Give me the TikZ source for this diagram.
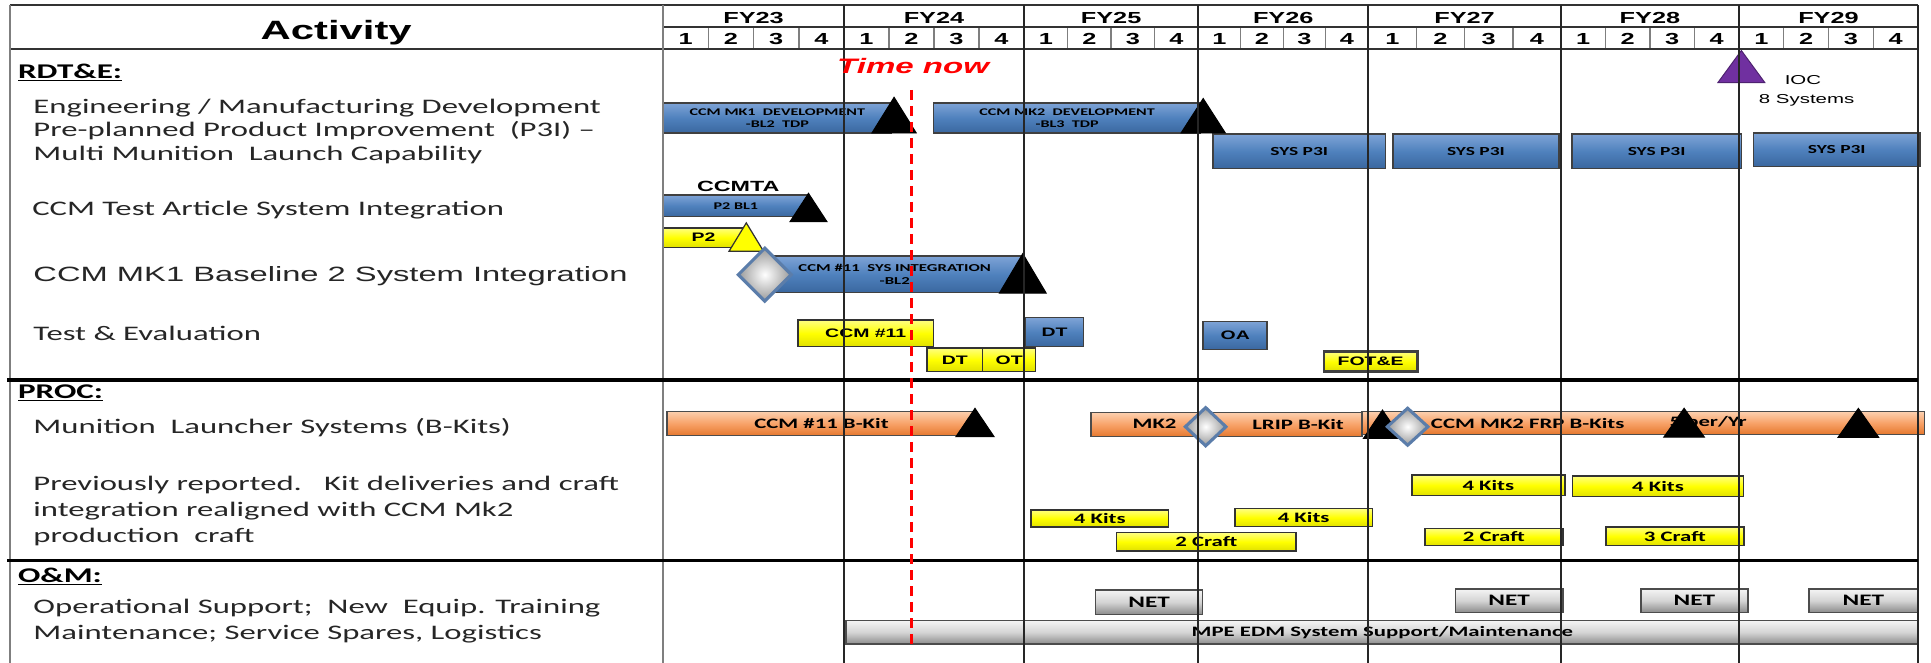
\documentclass[tikz,border=0pt]{standalone}
\usepackage{fontspec}
\setmainfont[FakeStretch=1.58]{Carlito}
\newfontfamily\fcal[FakeStretch=1.58]{Carlito}
\newfontfamily\fari[FakeStretch=1.58]{Liberation Sans}
\usetikzlibrary{shapes.geometric}

\definecolor{bbar}{HTML}{4F81BD}
\definecolor{bbarL}{HTML}{7EA3D6}
\definecolor{bbarD}{HTML}{3A679F}
\definecolor{ybar}{HTML}{FFFF00}
\definecolor{ybarL}{HTML}{FFFF80}
\definecolor{ybarD}{HTML}{E0E000}
\definecolor{obar}{HTML}{F8A268}
\definecolor{obarL}{HTML}{FCCFAE}
\definecolor{obarD}{HTML}{E5782E}
\definecolor{gbarM}{HTML}{D4D4D4}
\definecolor{gbarL}{HTML}{F4F4F4}
\definecolor{gbarD}{HTML}{8C8C8C}
\definecolor{purp}{HTML}{7030A0}
\definecolor{diaedge}{HTML}{5B7DAA}
\definecolor{linegray}{HTML}{7F7F7F}

\tikzset{
  barbase/.style={rectangle, inner sep=0pt, draw=black!80, line width=1.2pt, align=center, text=black},
  bluebar/.style={barbase, top color=bbarL, bottom color=bbarD, middle color=bbar, draw=black!75},
  yelbar/.style={barbase, top color=ybarL, bottom color=ybarD, middle color=ybar},
  orgbar/.style={barbase, top color=obarL, bottom color=obarD, middle color=obar, draw=black!70},
  graybar/.style={barbase, top color=gbarL, bottom color=gbarD, middle color=gbarM, draw=black!70},
  tinytxt/.style={font=\fcal\bfseries\fontsize{8.3}{9.5}\selectfont},
  syst/.style={font=\fcal\bfseries\fontsize{10}{12}\selectfont},
  shortt/.style={font=\fari\bfseries\fontsize{10}{12}\selectfont},
  midt/.style={font=\fcal\bfseries\fontsize{11.7}{13}\selectfont},
  nett/.style={font=\fcal\bfseries\fontsize{13}{15}\selectfont},
  freet/.style={inner sep=0pt, anchor=base},
  lbl/.style={inner sep=0pt, anchor=base west, font=\fcal\fontsize{16.8}{19}\selectfont, text=black!85},
  sect/.style={inner sep=0pt, anchor=base west, font=\fcal\bfseries\fontsize{17}{19}\selectfont},
  fyl/.style={inner sep=0pt, anchor=base, font=\fari\bfseries\fontsize{13}{15}\selectfont},
  ql/.style={inner sep=0pt, anchor=base, font=\fari\bfseries\fontsize{13}{15}\selectfont},
  yline/.style={draw=black!85, line width=1.3pt},
  gline/.style={draw=linegray, line width=1.8pt},
  qline/.style={draw=linegray, line width=1.2pt},
  hline/.style={draw=black!80, line width=1.3pt},
  secline/.style={draw=black, line width=2.8pt},
  nowline/.style={draw=red, line width=2.5pt, dash pattern=on 8pt off 5pt},
  blktri/.style={fill=black, draw=black, line width=0.8pt, line join=miter},
  yeltri/.style={fill=ybar, draw=black!80, line width=1pt, line join=miter},
  purtri/.style={fill=purp, draw=purp!70!black, line width=0.8pt, line join=miter},
  diam/.style={draw=diaedge, line width=2.5pt, inner color=white, outer color=black!40, line join=miter}
}

\newcommand{\gbar}[7]{%
  \node[#2, minimum width={#5pt-#3pt}, minimum height={#6pt-#4pt}] (#1) at ({(#3+#5)/2},{(#4+#6)/2}) {#7};}
\newcommand{\mtri}[6]{%
  \coordinate (#1) at (#2,#3);
  \draw[#6] (#1) -- ++({-#4},#5) -- ++({2*#4},0) -- cycle;}
\newcommand{\mdia}[5]{%
  \coordinate (#1) at (#2,#3);
  \draw[diam] (#2,{#3-#5}) -- ({#2+#4},#3) -- (#2,{#3+#5}) -- ({#2-#4},#3) -- cycle;}

\begin{document}
\begin{tikzpicture}[x=1pt, y=-1pt]
\useasboundingbox (0,0) rectangle (1568,538);
\fill[white] (0,0) rectangle (1568,538);

% ---------- header ----------
\node[inner sep=0pt, anchor=base, font=\fari\bfseries\fontsize{21.5}{24}\selectfont] (act) at (273,32) {Activity};
\foreach \a/\b/\yr in {538.5/685.3/23, 685.3/831.5/24, 831.5/973/25, 973/1111/26, 1111/1267.5/27, 1267.5/1412/28, 1412/1557.5/29}{
  \node[fyl] (fy\yr) at ({(\a+\b)/2},19) {FY\yr};
  \foreach \j in {1,2,3,4}{
    \node[ql] (q\yr\j) at ({\a+(\j-0.5)*(\b-\a)/4},36.5) {\j};
  }
  \foreach \j in {1,2,3}{
    \draw[qline] ({\a+\j*(\b-\a)/4},22) -- ({\a+\j*(\b-\a)/4},40);
  }
}

% ---------- left column ----------
\node[sect] (rdte) at (14.5,63.6) {\underline{RDT\&E:}};
\node[lbl] (l1) at (27,92) {Engineering / Manufacturing Development};
\node[lbl] (l2) at (27,111) {Pre-planned Product Improvement\ \ (P3I) –};
\node[lbl] (l3) at (27,130) {Multi Munition\ \ Launch Capability};
\node[lbl] (l4) at (26,174.6) {CCM Test Article System Integration};
\node[lbl, font=\fari\fontsize{16.8}{19}\selectfont] (l5) at (27,228.7) {CCM MK1 Baseline 2 System Integration};
\node[lbl] (l6) at (27,276.6) {Test \& Evaluation};
\node[sect] (proc) at (14.5,323.4) {\underline{PROC:}};
\node[lbl] (l7) at (27,351.9) {Munition\ \ Launcher Systems (B-Kits)};
\node[lbl] (l8) at (27,398.4) {Previously reported.\ \ \ Kit deliveries and craft};
\node[lbl] (l9) at (27,419.5) {integration realigned with CCM Mk2};
\node[lbl] (l10) at (27,440.7) {production\ \ craft};
\node[sect] (om) at (14.5,472.9) {\underline{O\&M:}};
\node[lbl] (l11) at (27,498) {Operational Support;\ \ New\ \ Equip. Training};
\node[lbl] (l12) at (27,519.2) {Maintenance; Service Spares, Logistics};

% ---------- RDT&E bars ----------
\gbar{b1}{bluebar, tinytxt}{538.5}{83.5}{724}{108}{CCM MK1\ \ DEVELOPMENT\\-BL2\ \ TDP}
\gbar{b2}{bluebar, tinytxt}{758}{83.5}{975}{108}{CCM MK2\ \ DEVELOPMENT\\-BL3\ \ TDP}
\gbar{p3a}{bluebar, syst}{985}{109}{1125}{136.7}{SYS P3I}
\gbar{p3b}{bluebar, syst}{1131}{109}{1266}{136.7}{SYS P3I}
\gbar{p3c}{bluebar, syst}{1276.5}{109}{1414}{136.7}{SYS P3I}
\gbar{p3d}{bluebar, syst}{1424}{108}{1559}{135}{SYS P3I}
\node[freet, font=\fari\bfseries\fontsize{12}{14}\selectfont] (ccmta) at (599.5,155.6) {CCMTA};
\gbar{p2bl}{bluebar, tinytxt}{538.5}{158.5}{656.5}{176}{P2 BL1}
\gbar{p2}{yelbar, shortt}{538.5}{185}{604}{201}{P2}
\gbar{sysint}{bluebar, tinytxt, font=\fcal\bfseries\fontsize{8.6}{10}\selectfont}{621}{208}{832}{237.7}{CCM \#11\ \ SYS INTEGRATION\\-BL2}
\gbar{c11}{yelbar, shortt}{648}{260}{758}{281.5}{CCM \#11}
\gbar{dtb}{bluebar, shortt}{832.5}{258}{880}{281.5}{DT}
\gbar{dty}{yelbar, shortt}{752.6}{282.6}{798}{301.8}{DT}
\gbar{oty}{yelbar, shortt}{798}{282.6}{841}{301.8}{OT}
\gbar{oa}{bluebar, shortt}{977}{261}{1029}{284}{OA}
\gbar{fote}{yelbar, shortt, line width=2pt, draw=black!75}{1075}{285.6}{1151}{301.8}{FOT\&E}

\mtri{t1}{726}{79}{18}{29}{blktri}
\mtri{t2}{977}{80}{18}{28}{blktri}
\mtri{t3}{656.5}{157}{15}{23}{blktri}
\mtri{t4}{606}{181}{14}{23}{yeltri}
\mtri{t5}{830.5}{206}{19}{32}{blktri}
\mtri{ioc}{1414}{41}{19}{26}{purtri}
\mdia{d1}{621}{223}{21.5}{21.5}
\node[freet, font=\fari\fontsize{10.5}{12}\selectfont] (ioct) at (1464,69) {IOC};
\node[freet, font=\fari\fontsize{10.5}{12}\selectfont] (iocs) at (1467,84) {8 Systems};

% ---------- PROC bars ----------
\gbar{bk11}{orgbar, midt}{541.6}{334}{792.5}{353.8}{CCM \#11 B-Kit}
\gbar{lrip}{orgbar}{886}{335}{1106}{354.6}{}
\gbar{frp}{orgbar}{1106}{334.3}{1562.7}{352.7}{}
\node[midt, inner sep=0pt] (mk2t) at (937.5,344.5) {MK2};
\node[midt, inner sep=0pt] (lript) at (1054,344.5) {LRIP B-Kit};
\node[midt, inner sep=0pt] (frpt) at (1240.5,343.5) {CCM MK2 FRP B-Kits};
\node[midt, inner sep=0pt] (rate) at (1387,343.5) {5 per/Yr};
\mtri{t7}{791.7}{331.6}{15.5}{23}{blktri}
\mtri{t8}{1122.6}{333}{15.5}{23}{blktri}
\mtri{t9}{1367.5}{331.5}{16.5}{23.5}{blktri}
\mtri{t10}{1509}{331.6}{16.5}{23.5}{blktri}
\mdia{d2}{979}{346.5}{16.5}{15.5}
\mdia{d3}{1143}{346.5}{16.5}{15}

\gbar{k1}{yelbar, midt}{837}{414}{949}{428}{4 Kits}
\gbar{k2}{yelbar, midt}{1002.7}{413}{1114.4}{427.7}{4 Kits}
\gbar{cr1}{yelbar, midt}{906.6}{432.6}{1052.4}{447.4}{2 Craft}
\gbar{k3}{yelbar, midt}{1146.5}{385.7}{1270.6}{402.5}{4 Kits}
\gbar{k4}{yelbar, midt}{1276.8}{386.5}{1415.8}{403.3}{4 Kits}
\gbar{cr2}{yelbar, midt}{1157}{429}{1269}{443}{2 Craft}
\gbar{cr3}{yelbar, midt}{1304}{428}{1416}{443}{3 Craft}

% ---------- O&M bars ----------
\gbar{n1}{graybar, nett}{889.6}{479}{976.6}{498.8}{NET}
\gbar{n2}{graybar, nett}{1182}{478.3}{1269}{497.2}{NET}
\gbar{n3}{graybar, nett}{1332.4}{478.3}{1419.3}{497.2}{NET}
\gbar{n4}{graybar, nett}{1469}{478.3}{1557.2}{497.2}{NET}
\gbar{mpe}{graybar, midt}{687}{504}{1558}{523}{MPE EDM System Support/Maintenance}

% ---------- grid on top ----------
\draw[hline] (8,4) -- (1557.5,4);
\draw[hline] (538.5,22) -- (1557.5,22);
\draw[hline] (8,40) -- (1557.5,40);
\draw[gline] (8,4) -- (8,538);
\draw[gline] (538.5,4) -- (538.5,538);
\foreach \x in {685.3,831.5,973,1111,1267.5,1412,1557.5}{
  \draw[yline] (\x,4) -- (\x,538);
}
\draw[secline] (6,308.6) -- (1557.5,308.6);
\draw[secline] (6,455) -- (1557.5,455);

% ---------- time now ----------
\node[freet, font=\fari\bfseries\itshape\fontsize{17}{20}\selectfont, text=red] (tnow) at (741.5,60) {Time now};
\coordinate (tnTop) at (740,73);
\coordinate (tnBot) at (740,524);
\draw[nowline] (tnTop) -- (tnBot);
\end{tikzpicture}
\end{document}
